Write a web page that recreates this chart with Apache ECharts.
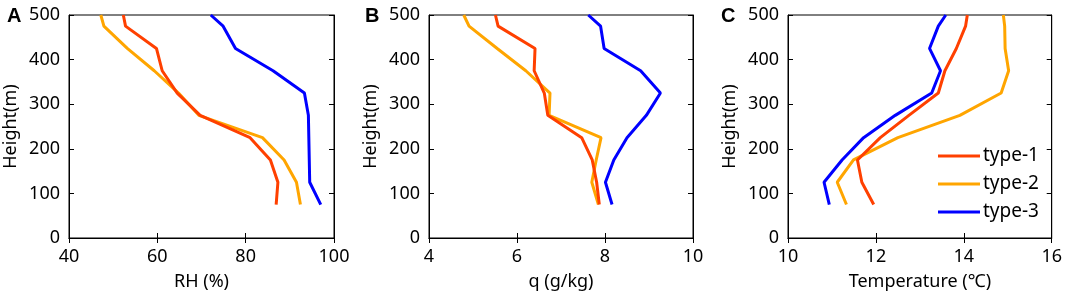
<!DOCTYPE html>
<html>
<head>
<meta charset="utf-8">
<script src="https://cdn.jsdelivr.net/npm/echarts@6/dist/echarts.min.js"></script>
<style>
  html, body { margin: 0; padding: 0; background: #fff; }
  #chart { width: 1065px; height: 296px; }
</style>
</head>
<body>
<div id="chart"></div>
<script>
// heights (m) of the profile points
const heights = [75, 125, 175, 225, 275, 325, 375, 425, 475, 500];
const typeNames = ["type-1", "type-2", "type-3"];
const typeColors = ["#ff4000", "#ffa500", "#0000ff"];

// RH (%)
const rh1 = [86.9, 87.3, 85.6, 81.0, 69.7, 64.5, 61.1, 59.8, 52.8, 52.3];
const rh2 = [92.4, 91.5, 88.7, 83.8, 69.4, 64.8, 59.3, 53.2, 47.9, 47.2];
const rh3 = [97.0, 94.5, 94.4, 94.3, 94.2, 93.3, 86.2, 77.7, 74.9, 72.1];

// q (g/kg)
const q1 = [7.87, 7.81, 7.71, 7.47, 6.70, 6.62, 6.39, 6.41, 5.57, 5.51];
const q2 = [7.85, 7.70, 7.80, 7.91, 6.73, 6.75, 6.20, 5.55, 4.91, 4.79];
const q3 = [8.16, 8.01, 8.20, 8.50, 8.94, 9.26, 8.81, 7.98, 7.90, 7.62];

// Temperature (℃)
const t1 = [11.95, 11.68, 11.58, 12.10, 12.75, 13.42, 13.57, 13.83, 14.04, 14.08];
const t2 = [11.33, 11.12, 11.49, 12.50, 13.91, 14.85, 15.02, 14.94, 14.93, 14.90];
const t3 = [10.94, 10.82, 11.23, 11.72, 12.44, 13.27, 13.47, 13.22, 13.42, 13.59];

// x axis settings per panel
const xMins = [40, 4, 10];
const xMaxs = [100, 10, 16];
const xSteps = [20, 2, 2];
const xNames = ["RH (%)", "q (g/kg)", "Temperature (℃)"];
const panelLetters = ["A", "B", "C"];
const panelData = [[rh1, rh2, rh3], [q1, q2, q3], [t1, t2, t3]];

const font = "Noto Sans";
const grids = [
  { left: 69, top: 15, width: 265, height: 224 },
  { left: 429, top: 15, width: 264, height: 224 },
  { left: 788, top: 15, width: 265, height: 224 },
];

const chart = echarts.init(document.getElementById("chart"));

const xAxis = [];
const yAxis = [];
const series = [];
const title = [];

grids.forEach((g, i) => {
  g.show = true;
  g.borderColor = "#000";
  g.borderWidth = 1;
  g.containLabel = false;

  // bottom x axis
  xAxis.push({
    type: "value", gridIndex: i, min: xMins[i], max: xMaxs[i], interval: xSteps[i],
    name: xNames[i], nameLocation: "middle", nameGap: 35,
    nameTextStyle: { color: "#000", fontSize: 18, fontFamily: font },
    axisLine: { show: true, lineStyle: { color: "#000", width: 1 } },
    axisTick: { show: true, inside: true, length: 5, lineStyle: { color: "#000" } },
    axisLabel: { color: "#000", fontSize: 18, fontFamily: font, margin: 10 },
    splitLine: { show: false },
  });
  // top x axis (ticks only)
  xAxis.push({
    type: "value", gridIndex: i, position: "top", min: xMins[i], max: xMaxs[i], interval: xSteps[i],
    axisLine: { show: true, lineStyle: { color: "#000", width: 1 } },
    axisTick: { show: true, inside: true, length: 5, lineStyle: { color: "#000" } },
    axisLabel: { show: false },
    splitLine: { show: false },
  });
  // left y axis
  yAxis.push({
    type: "value", gridIndex: i, min: 0, max: 500, interval: 100,
    name: "Height(m)", nameLocation: "middle", nameGap: 49,
    nameTextStyle: { color: "#000", fontSize: 18, fontFamily: font },
    axisLine: { show: true, lineStyle: { color: "#000", width: 1 } },
    axisTick: { show: true, inside: true, length: 5, lineStyle: { color: "#000" } },
    axisLabel: { color: "#000", fontSize: 18, fontFamily: font, margin: 9 },
    splitLine: { show: false },
  });
  // right y axis (ticks only)
  yAxis.push({
    type: "value", gridIndex: i, position: "right", min: 0, max: 500, interval: 100,
    axisLine: { show: true, lineStyle: { color: "#000", width: 1 } },
    axisTick: { show: true, inside: true, length: 5, lineStyle: { color: "#000" } },
    axisLabel: { show: false },
    splitLine: { show: false },
  });

  panelData[i].forEach((vals, k) => {
    series.push({
      name: typeNames[k],
      type: "line",
      xAxisIndex: i * 2,
      yAxisIndex: i * 2,
      data: vals.map((v, j) => [v, heights[j]]),
      symbol: "none",
      lineStyle: { color: typeColors[k], width: 3 },
      itemStyle: { color: typeColors[k] },
      z: 3 - k,
    });
  });

  title.push({
    text: panelLetters[i],
    left: [2, 360, 716][i],
    top: 1,
    textStyle: { fontSize: 20, fontWeight: "bold", color: "#000", fontFamily: "Liberation Sans" },
  });
});

chart.setOption({
  animation: false,
  title: title,
  grid: grids,
  xAxis: xAxis,
  yAxis: yAxis,
  series: series,
  legend: {
    data: typeNames,
    orient: "vertical",
    left: 933,
    top: 141,
    icon: "rect",
    itemWidth: 42,
    itemHeight: 3,
    itemGap: 8,
    textStyle: { color: "#000", fontSize: 19, fontFamily: font, padding: [0, 0, 0, -2], lineHeight: 20 },
  },
});
</script>
</body>
</html>
